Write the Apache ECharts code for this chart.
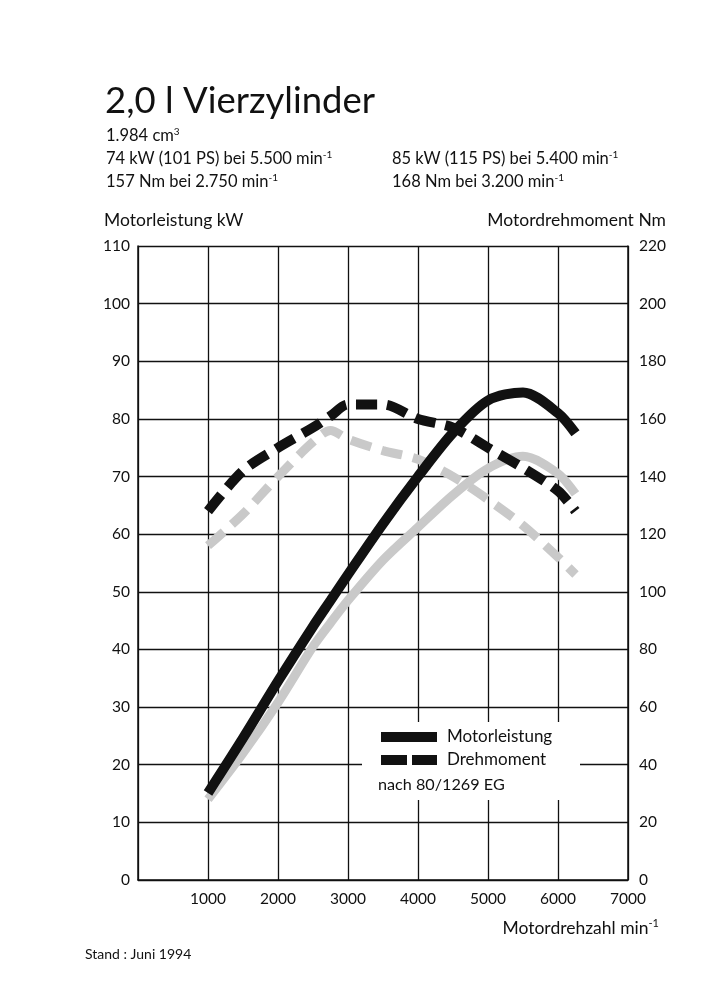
<!DOCTYPE html>
<html>
<head>
<meta charset="utf-8">
<script src="https://cdn.jsdelivr.net/npm/echarts@6/dist/echarts.min.js"></script>
<style>
html,body{margin:0;padding:0;background:#fff;}
#c{width:717px;height:1000px;}
</style>
</head>
<body>
<div id="c"></div>
<script>
// ---- data ----
const rpm = [1000, 1500, 2000, 2500, 2750, 3000, 3500, 4000, 4500, 5000, 5500, 6000, 6250];
const power115PS = [15.1, 24.6, 34.5, 44, 48.5, 53, 61.8, 70, 77.6, 83.2, 84.6, 81, 77.5];     // kW
const power101PS = [14, 22, 30.8, 40.5, 44.6, 48.5, 55.5, 61.2, 66.8, 71.4, 73.5, 70.5, 67];  // kW
const torque168 = [128, 142, 150, 157, 161, 165, 165, 160, 157, 150, 143, 135, 128];          // Nm
const torque157 = [116, 127, 140, 152, 156, 153, 149, 146, 140, 132, 123, 112, 106];          // Nm
const xTicks = [1000, 2000, 3000, 4000, 5000, 6000, 7000];
const leftTicks = [0, 10, 20, 30, 40, 50, 60, 70, 80, 90, 100, 110];
const rightTicks = [0, 20, 40, 60, 80, 100, 120, 140, 160, 180, 200, 220];

const FONT = 'Lato';
const BLACK = '#111';
const GRAY = '#c9c9c9';

function pairs(xs, ys) { return xs.map((x, i) => [x, ys[i]]); }

const chart = echarts.init(document.getElementById('c'), null, {renderer: 'canvas'});

function supStyle(fs) { return {fontSize: Math.round(fs * 0.62), fontFamily: FONT, fill: BLACK, padding: [0, 0, Math.round(fs * 0.55), 0]}; }

function rtext(x, y, str, fs, align) {
  return {
    type: 'text', x: x, y: y, z: 100,
    style: {
      text: str, fontFamily: FONT, fontSize: fs, fill: BLACK,
      verticalAlign: 'middle', align: align || 'left',
      rich: {n: {fontSize: fs, fontFamily: FONT, fill: BLACK}, s: supStyle(fs)}
    }
  };
}
function ptext(x, y, str, fs, align) {
  return {type: 'text', x: x, y: y, z: 100,
    style: {text: str, fontFamily: FONT, fontSize: fs, fill: BLACK, verticalAlign: 'middle', align: align || 'left'}};
}

const option = {
  backgroundColor: '#fff',
  animation: false,
  grid: {left: 138, right: 89, top: 246, bottom: 120, containLabel: false},
  xAxis: {
    type: 'value', min: 0, max: 7000, interval: 1000,
    axisLine: {show: true, onZero: false, lineStyle: {color: BLACK, width: 1.5}},
    axisTick: {show: false},
    splitLine: {show: true, lineStyle: {color: BLACK, width: 1.3}},
    axisLabel: {
      color: BLACK, fontFamily: FONT, fontSize: 15.5, margin: 11,
      formatter: v => (xTicks.indexOf(v) >= 0 ? String(v) : '')
    }
  },
  yAxis: [
    {
      type: 'value', min: 0, max: 110, interval: 10, position: 'left',
      axisLine: {show: true, lineStyle: {color: BLACK, width: 1.5}},
      axisTick: {show: false},
      splitLine: {show: true, lineStyle: {color: BLACK, width: 1.3}},
      axisLabel: {color: BLACK, fontFamily: FONT, fontSize: 15.5, margin: 8,
        formatter: v => (leftTicks.indexOf(v) >= 0 ? String(v) : '')}
    },
    {
      type: 'value', min: 0, max: 220, interval: 20, position: 'right',
      axisLine: {show: true, lineStyle: {color: BLACK, width: 1.5}},
      axisTick: {show: false},
      splitLine: {show: false},
      axisLabel: {color: BLACK, fontFamily: FONT, fontSize: 15.5, margin: 11,
        formatter: v => (rightTicks.indexOf(v) >= 0 ? String(v) : '')}
    }
  ],
  series: [
    {
      name: 'Drehmoment 157 Nm', type: 'line', yAxisIndex: 1, smooth: 0.3,
      data: pairs(rpm, torque157), showSymbol: false, z: 3,
      lineStyle: {color: GRAY, width: 9, type: [21, 11], cap: 'butt'}
    },
    {
      name: 'Motorleistung 74 kW', type: 'line', yAxisIndex: 0, smooth: 0.3,
      data: pairs(rpm, power101PS), showSymbol: false, z: 3,
      lineStyle: {color: GRAY, width: 9, cap: 'butt'}
    },
    {
      name: 'Drehmoment', type: 'line', yAxisIndex: 1, smooth: 0.3,
      data: pairs(rpm, torque168), showSymbol: false, z: 4,
      lineStyle: {color: BLACK, width: 10, type: [21, 10], cap: 'butt'}
    },
    {
      name: 'Motorleistung', type: 'line', yAxisIndex: 0, smooth: 0.3,
      data: pairs(rpm, power115PS), showSymbol: false, z: 5,
      lineStyle: {color: BLACK, width: 10, cap: 'butt'}
    }
  ],
  graphic: [
    // title block
    ptext(105, 101, '2,0 l Vierzylinder', 36.5),
    rtext(106, 136, '{n|1.984 cm}{s|3}', 16.5),
    rtext(106, 159, '{n|74 kW (101 PS) bei 5.500 min}{s|-1}', 16.5),
    rtext(106, 182, '{n|157 Nm bei 2.750 min}{s|-1}', 16.5),
    rtext(392, 159, '{n|85 kW (115 PS) bei 5.400 min}{s|-1}', 16.5),
    rtext(392, 182, '{n|168 Nm bei 3.200 min}{s|-1}', 16.5),
    // axis titles
    ptext(104, 220, 'Motorleistung kW', 17.5),
    ptext(666, 220, 'Motordrehmoment Nm', 17.5, 'right'),
    rtext(659, 928, '{n|Motordrehzahl min}{s|-1}', 17.5, 'right'),
    ptext(85, 954, 'Stand : Juni 1994', 14),
    // legend box
    {type: 'rect', z: 90, shape: {x: 362, y: 722, width: 218, height: 78}, style: {fill: '#fff'}},
    {type: 'rect', z: 95, shape: {x: 381, y: 732, width: 56, height: 10}, style: {fill: BLACK}},
    {type: 'rect', z: 95, shape: {x: 381, y: 755, width: 26, height: 10}, style: {fill: BLACK}},
    {type: 'rect', z: 95, shape: {x: 412, y: 755, width: 25, height: 10}, style: {fill: BLACK}},
    ptext(447, 737, 'Motorleistung', 17),
    ptext(447, 760, 'Drehmoment', 17),
    ptext(378, 785, 'nach 80/1269 EG', 16.2)
  ]
};
chart.setOption(option);
</script>
</body>
</html>
